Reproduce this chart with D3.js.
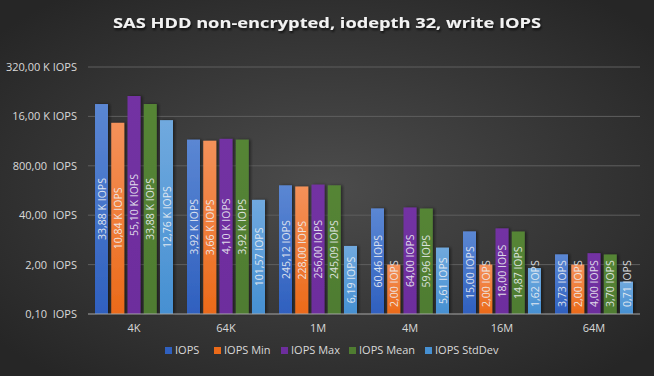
<!DOCTYPE html>
<html lang="en">
<head>
    <meta charset="UTF-8">
    <title>SAS HDD write IOPS</title>
    <script src="https://d3js.org/d3.v7.min.js"></script>
    <style>
        html, body { margin: 0; padding: 0; background: #2a2a2a; }
        svg { display: block; }
        text { font-family: "Open Sans", "Noto Sans", sans-serif; }
    </style>
</head>
<body>
<script>
    const categories = ["4K", "64K", "1M", "4M", "16M", "64M"];
    const seriesNames = ["IOPS", "IOPS Min", "IOPS Max", "IOPS Mean", "IOPS StdDev"];
    const iops       = [33880, 3920, 245.12, 60.46, 15.00, 3.73];
    const iopsMin    = [10840, 3660, 228.00, 2.00, 2.00, 2.00];
    const iopsMax    = [55100, 4100, 256.00, 64.00, 18.00, 4.00];
    const iopsMean   = [33880, 3920, 245.09, 59.96, 14.87, 3.70];
    const iopsStdDev = [12760, 101.57, 6.19, 5.61, 1.62, 0.71];
    const yTicks = [0.1, 2, 40, 800, 16000, 320000];

    const seriesValues = [iops, iopsMin, iopsMax, iopsMean, iopsStdDev];
    const colors = [
        ["#5b87d3", "#2f60bf"],
        ["#f4915a", "#eb6a19"],
        ["#7331a3", "#6d2e9d"],
        ["#558536", "#4f7c31"],
        ["#70a9de", "#4690d2"]
    ];

    const width = 654, height = 376;
    const plotLeft = 88, plotRight = 640, plotTop = 67, plotBottom = 314;

    const svg = d3.select("body").append("svg")
        .attr("width", width).attr("height", height);

    const defs = svg.append("defs");
    const bg = defs.append("radialGradient").attr("id", "bg")
        .attr("cx", "50%").attr("cy", "50%").attr("r", "65%");
    bg.append("stop").attr("offset", "0%").attr("stop-color", "#4c4c4c");
    bg.append("stop").attr("offset", "100%").attr("stop-color", "#262626");

    colors.forEach(function(c, i) {
        const g = defs.append("linearGradient").attr("id", "grad" + i)
            .attr("x1", 0).attr("y1", 0).attr("x2", 0).attr("y2", 1);
        g.append("stop").attr("offset", "0%").attr("stop-color", c[0]);
        g.append("stop").attr("offset", "100%").attr("stop-color", c[1]);
    });

    const shadow = defs.append("filter").attr("id", "shadow")
        .attr("x", "-30%").attr("y", "-10%").attr("width", "160%").attr("height", "120%");
    shadow.append("feDropShadow").attr("dx", 2).attr("dy", 0)
        .attr("stdDeviation", 1.5).attr("flood-color", "#000").attr("flood-opacity", 0.45);

    const titleShadow = defs.append("filter").attr("id", "tshadow");
    titleShadow.append("feDropShadow").attr("dx", 1).attr("dy", 2)
        .attr("stdDeviation", 1.2).attr("flood-color", "#000").attr("flood-opacity", 0.7);

    svg.append("rect").attr("width", width).attr("height", height).attr("fill", "url(#bg)");

    svg.append("text")
        .attr("x", width / 2).attr("y", 28)
        .attr("text-anchor", "middle")
        .attr("font-size", 15).attr("font-weight", "bold")
        .attr("fill", "#f2f2f2")
        .attr("textLength", 428).attr("lengthAdjust", "spacingAndGlyphs")
        .attr("filter", "url(#tshadow)")
        .text("SAS HDD non-encrypted, iodepth 32, write IOPS");

    const y = d3.scaleLog().domain([0.1, 320000]).range([plotBottom, plotTop]);
    const x0 = d3.scaleBand().domain(categories).range([plotLeft, plotRight]);
    const x1 = d3.scaleBand().domain(seriesNames).range([7, 85]).paddingInner(0.2);

    function fmt(v) {
        if (v >= 1000) return d3.format(".2f")(v / 1000).replace(".", ",") + " K IOPS";
        return d3.format(".2f")(v).replace(".", ",") + " IOPS";
    }
    function tickFmt(v) {
        if (v >= 1000) return d3.format(".2f")(v / 1000).replace(".", ",") + " K IOPS";
        return d3.format(".2f")(v).replace(".", ",") + "  IOPS";
    }

    // gridlines
    svg.append("g").selectAll("line")
        .data(yTicks.slice(1))
        .enter().append("line")
        .attr("x1", plotLeft).attr("x2", plotRight)
        .attr("y1", d => y(d)).attr("y2", d => y(d))
        .attr("stroke", "#5e5e5e").attr("stroke-width", 1);

    // y axis labels
    svg.append("g").selectAll("text")
        .data(yTicks)
        .enter().append("text")
        .attr("x", 77).attr("y", d => y(d) + 4)
        .attr("text-anchor", "end")
        .attr("font-size", 11).attr("fill", "#d9d9d9")
        .style("white-space", "pre")
        .text(d => tickFmt(d));

    // bars
    const groups = svg.append("g").selectAll("g")
        .data(categories)
        .enter().append("g")
        .attr("transform", d => "translate(" + x0(d) + ",0)");

    const barData = (c, ci) => seriesNames.map((s, si) => ({ s: s, si: si, v: seriesValues[si][ci] }));

    groups.selectAll("rect")
        .data((c, ci) => barData(c, ci))
        .enter().append("rect")
        .attr("x", d => x1(d.s))
        .attr("width", x1.bandwidth())
        .attr("y", d => y(d.v))
        .attr("height", d => plotBottom - y(d.v))
        .attr("fill", d => "url(#grad" + d.si + ")")
        .attr("filter", "url(#shadow)");

    // baseline
    svg.append("line")
        .attr("x1", plotLeft).attr("x2", plotRight)
        .attr("y1", plotBottom).attr("y2", plotBottom)
        .attr("stroke", "#a6a6a6").attr("stroke-width", 1);

    // value labels
    groups.selectAll("text")
        .data((c, ci) => barData(c, ci))
        .enter().append("text")
        .attr("text-anchor", "middle")
        .attr("font-size", 10.5)
        .attr("fill", "#eef0f4")
        .attr("fill-opacity", 0.9)
        .text(d => fmt(d.v))
        .each(function(d) {
            const len = this.getComputedTextLength();
            let cy = (y(d.v) + plotBottom) / 2;
            if (cy + len / 2 > plotBottom - 7) cy = plotBottom - 7 - len / 2;
            const cx = x1(d.s) + x1.bandwidth() / 2 + 4;
            d3.select(this).attr("transform", "translate(" + cx + "," + cy + ") rotate(-90)");
        });

    // x axis labels
    svg.append("g").selectAll("text")
        .data(categories)
        .enter().append("text")
        .attr("x", d => x0(d) + x0.bandwidth() / 2)
        .attr("y", 332)
        .attr("text-anchor", "middle")
        .attr("font-size", 11).attr("fill", "#d9d9d9")
        .text(d => d);

    // legend
    const legendX = [165, 214, 281, 349, 425];
    const legend = svg.append("g").selectAll("g")
        .data(seriesNames)
        .enter().append("g")
        .attr("transform", (d, i) => "translate(" + legendX[i] + ",354)");
    legend.append("rect")
        .attr("x", 0).attr("y", -7).attr("width", 7).attr("height", 7)
        .attr("fill", (d, i) => colors[i][1]);
    legend.append("text")
        .attr("x", 10).attr("y", 0)
        .attr("font-size", 11).attr("fill", "#d9d9d9")
        .text(d => d);
</script>
</body>
</html>
